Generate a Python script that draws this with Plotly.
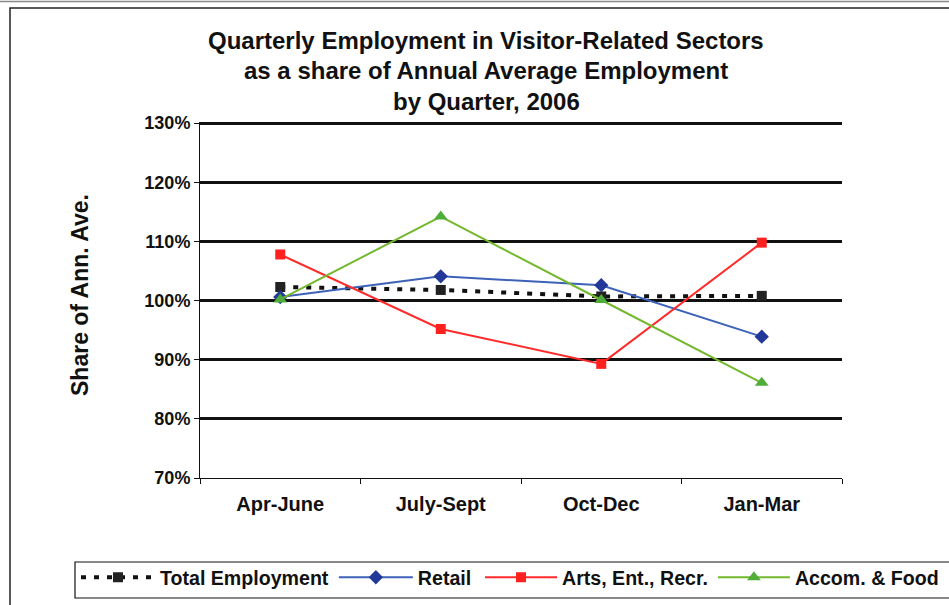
import plotly.graph_objects as go

quarters = ["Apr-June", "July-Sept", "Oct-Dec", "Jan-Mar"]
total_employment = [102.3, 101.8, 100.7, 100.8]
retail = [100.6, 104.1, 102.6, 93.9]
arts_ent_recr = [107.8, 95.2, 89.3, 109.8]
accom_food = [100.2, 114.2, 100.1, 86.1]

y_ticks = [70, 80, 90, 100, 110, 120, 130]
y_tick_labels = [f"{v}%" for v in y_ticks]

title_lines = [
    "Quarterly Employment in Visitor-Related Sectors",
    "as a share of Annual Average Employment",
    "by Quarter, 2006",
]
y_title = "Share of Ann. Ave."

FONT = "Liberation Sans, Arial, sans-serif"
W, H = 949, 605
ML, MR, MT, MB = 200, 107, 122, 127
PW = W - ML - MR
PH = H - MT - MB


def px_x(x):
    return (x - ML) / PW


def px_y(y):
    return (H - MB - y) / PH


fig = go.Figure()

fig.add_trace(go.Scatter(
    x=quarters, y=total_employment, name="Total Employment",
    mode="lines+markers", legend="legend",
    line=dict(color="#111111", width=4, dash="5px,8px"),
    marker=dict(symbol="square", size=10, color="#222222"),
))
fig.add_trace(go.Scatter(
    x=quarters, y=retail, name="Retail",
    mode="lines+markers", legend="legend",
    line=dict(color="#3d62b8", width=2),
    marker=dict(symbol="diamond", size=11, color="#23399a"),
))
fig.add_trace(go.Scatter(
    x=quarters, y=arts_ent_recr, name="Arts, Ent., Recr.",
    mode="lines+markers", legend="legend2",
    line=dict(color="#ff2a2a", width=2),
    marker=dict(symbol="square", size=10, color="#ff2020"),
))
fig.add_trace(go.Scatter(
    x=quarters, y=accom_food, name="Accom. & Food",
    mode="lines+markers", legend="legend2",
    line=dict(color="#74b82e", width=2),
    marker=dict(symbol="triangle-up", size=12, color="#4fae3a"),
))

annotations = []
for txt, yc in zip(title_lines, [40, 71, 101]):
    annotations.append(dict(
        text=txt, x=px_x(486), y=px_y(yc), xref="paper", yref="paper",
        xanchor="center", yanchor="middle", showarrow=False,
        font=dict(family=FONT, size=24, color="#111111", weight="bold"),
    ))
annotations.append(dict(
    text=y_title, x=px_x(80), y=px_y(295), xref="paper", yref="paper",
    xanchor="center", yanchor="middle", showarrow=False, textangle=-90,
    font=dict(family=FONT, size=23, color="#111111", weight="bold"),
))

shapes = [
    dict(type="rect", xref="paper", yref="paper",
         x0=px_x(10), x1=px_x(960), y0=px_y(616), y1=px_y(8),
         line=dict(color="#222222", width=1.5), fillcolor="rgba(0,0,0,0)",
         layer="below"),
    dict(type="line", xref="paper", yref="paper",
         x0=px_x(0), x1=px_x(949), y0=px_y(1.5), y1=px_y(1.5),
         line=dict(color="#888888", width=1.5)),
    # legend box
    dict(type="rect", xref="paper", yref="paper",
         x0=px_x(75), x1=px_x(965), y0=px_y(598), y1=px_y(562),
         line=dict(color="#111111", width=1.2), fillcolor="white",
         layer="below"),
]

legend_font = dict(family=FONT, size=19.6, color="#111111", weight="bold")

fig.update_layout(
    width=W, height=H,
    margin=dict(l=ML, r=MR, t=MT, b=MB, autoexpand=False),
    paper_bgcolor="white", plot_bgcolor="white",
    font=dict(family=FONT, color="#111111"),
    showlegend=True,
    legend=dict(
        orientation="h", x=px_x(76), y=px_y(558), xanchor="left", yanchor="top",
        borderwidth=0, bgcolor="rgba(0,0,0,0)",
        font=legend_font, itemwidth=74, tracegroupgap=0,
    ),
    legend2=dict(
        orientation="h", x=px_x(480), y=px_y(558), xanchor="left", yanchor="top",
        borderwidth=0, bgcolor="rgba(0,0,0,0)",
        font=legend_font, itemwidth=72, tracegroupgap=0,
    ),
    annotations=annotations,
    shapes=shapes,
    xaxis=dict(
        type="category", categoryorder="array", categoryarray=quarters,
        range=[-0.5, 3.5],
        tickson="boundaries", ticks="outside", ticklen=5, tickcolor="#111111",
        showline=True, linecolor="#111111", linewidth=1,
        showgrid=False, zeroline=False, ticklabelstandoff=8,
        tickfont=dict(family=FONT, size=20, color="#111111", weight="bold"),
    ),
    yaxis=dict(
        range=[70, 130.2], tickvals=y_ticks, ticktext=y_tick_labels,
        ticks="outside", ticklen=5, tickcolor="#111111",
        showline=True, linecolor="#111111", linewidth=1,
        showgrid=True, gridcolor="#111111", gridwidth=2.5, zeroline=False,
        tickfont=dict(family=FONT, size=18, color="#111111", weight="bold"),
    ),
)

fig.write_html(
    "out.html",
    config={"displayModeBar": False},
    post_script="document.body.style.margin='0';document.body.style.padding='0';",
)
